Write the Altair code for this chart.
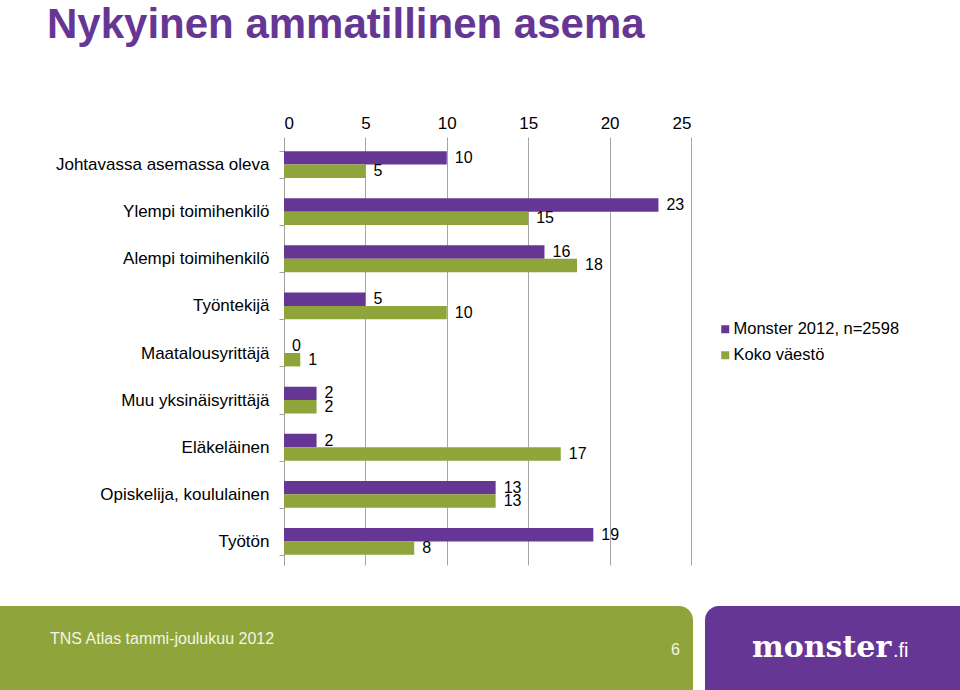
import altair as alt
import pandas as pd

# ---- data ----
categories = [
    "Johtavassa asemassa oleva",
    "Ylempi toimihenkilö",
    "Alempi toimihenkilö",
    "Työntekijä",
    "Maatalousyrittäjä",
    "Muu yksinäisyrittäjä",
    "Eläkeläinen",
    "Opiskelija, koululainen",
    "Työtön",
]
series_names = ["Monster 2012, n=2598", "Koko väestö"]
monster_values = [10, 23, 16, 5, 0, 2, 2, 13, 19]
koko_values = [5, 15, 18, 10, 1, 2, 17, 13, 8]
x_ticks = [0, 5, 10, 15, 20, 25]

title_text = ["Nykyinen ammatillinen asema"]
footer_source = ["TNS Atlas tammi-joulukuu 2012"]
page_number = ["6"]
logo_main = ["monster"]
logo_suffix = [".fi"]

PURPLE = "#663695"
GREEN = "#8fa53b"

rows = []
for c, m, k in zip(categories, monster_values, koko_values):
    rows.append({"cat": c, "series": series_names[0], "value": m})
    rows.append({"cat": c, "series": series_names[1], "value": k})
df = pd.DataFrame(rows)

# plot area geometry (pixels)
W, H = 407, 424
PL, PT = 284, 141

one = pd.DataFrame({"k": [0]})

y_enc = alt.Y(
    "cat:N",
    sort=categories,
    scale=alt.Scale(paddingInner=0.43, paddingOuter=0.215),
    axis=alt.Axis(
        title=None,
        labelFontSize=17,
        labelFont="Liberation Sans",
        labelColor="#000000",
        labelLimit=320,
        labelPadding=10,
        tickBand="extent",
        tickSize=5,
        tickColor="#a0a0a0",
        domainColor="#a0a0a0",
        grid=False,
    ),
)
x_enc = alt.X(
    "value:Q",
    scale=alt.Scale(domain=[0, 25], nice=False),
    axis=alt.Axis(
        orient="top",
        title=None,
        values=x_ticks,
        labelFontSize=17,
        labelFont="Liberation Sans",
        labelColor="#000000",
        labelPadding=5,
        tickSize=4,
        tickColor="#a0a0a0",
        domain=False,
        grid=True,
        gridColor="#a6a6a6",
    ),
)
yoff_enc = alt.YOffset(
    "series:N", sort=series_names, scale=alt.Scale(domain=series_names, paddingInner=0, paddingOuter=0)
)

bars = alt.Chart(df).mark_bar().encode(
    y=y_enc,
    x=x_enc,
    yOffset=yoff_enc,
    color=alt.Color(
        "series:N",
        scale=alt.Scale(domain=series_names, range=[PURPLE, GREEN]),
        legend=alt.Legend(
            title=None,
            orient="none",
            legendX=433,
            legendY=180,
            symbolType="square",
            symbolSize=64,
            symbolStrokeWidth=0,
            labelFontSize=16.5,
            labelFont="Liberation Sans",
            labelColor="#000000",
            labelOffset=0,
            rowPadding=9,
            labelLimit=300,
        ),
    ),
)

labels = alt.Chart(df).mark_text(
    align="left", baseline="middle", dx=8, fontSize=16, font="Liberation Sans", color="#000000"
).encode(
    y=alt.Y("cat:N", sort=categories),
    x=alt.X("value:Q"),
    yOffset=alt.YOffset("series:N", sort=series_names),
    text=alt.Text("value:Q"),
)

green_box = alt.Chart(one).mark_rect(color=GREEN, cornerRadiusTopRight=14).encode(
    x=alt.value(-PL), x2=alt.value(693 - PL), y=alt.value(606 - PT), y2=alt.value(700 - PT)
)
purple_box = alt.Chart(one).mark_rect(color=PURPLE, cornerRadiusTopLeft=14).encode(
    x=alt.value(705 - PL), x2=alt.value(980 - PL), y=alt.value(606 - PT), y2=alt.value(700 - PT)
)

title = alt.Chart(pd.DataFrame({"t": title_text})).mark_text(
    align="left", baseline="alphabetic", fontSize=42, fontWeight="bold", font="Liberation Sans", color=PURPLE
).encode(text="t:N", x=alt.value(47 - PL), y=alt.value(38 - PT))

source = alt.Chart(pd.DataFrame({"t": footer_source})).mark_text(
    align="left", baseline="alphabetic", fontSize=16, font="Liberation Sans", color="#f4f4e4"
).encode(text="t:N", x=alt.value(50 - PL), y=alt.value(644 - PT))

page = alt.Chart(pd.DataFrame({"t": page_number})).mark_text(
    align="left", baseline="alphabetic", fontSize=16, font="Liberation Sans", color="#f4f4e4"
).encode(text="t:N", x=alt.value(671 - PL), y=alt.value(655 - PT))

logo1 = alt.Chart(pd.DataFrame({"t": logo_main})).mark_text(
    align="left", baseline="alphabetic", fontSize=30, fontWeight="bold", font="DejaVu Serif", color="#ffffff"
).encode(text="t:N", x=alt.value(752 - PL), y=alt.value(657 - PT))

logo2 = alt.Chart(pd.DataFrame({"t": logo_suffix})).mark_text(
    align="left", baseline="alphabetic", fontSize=20, font="Liberation Sans", color="#ffffff"
).encode(text="t:N", x=alt.value(893 - PL), y=alt.value(657 - PT))

chart = alt.layer(
    green_box, purple_box, bars, labels, title, source, page, logo1, logo2
).resolve_scale(y="shared").properties(
    width=W,
    height=H,
    autosize=alt.AutoSizeParams(type="none"),
    padding={"left": PL, "top": PT, "right": 960 - PL - W, "bottom": 690 - PT - H},
    background="#ffffff",
).configure_view(stroke=None)

chart.save("out.html", embed_options={"renderer": "svg", "actions": False})
